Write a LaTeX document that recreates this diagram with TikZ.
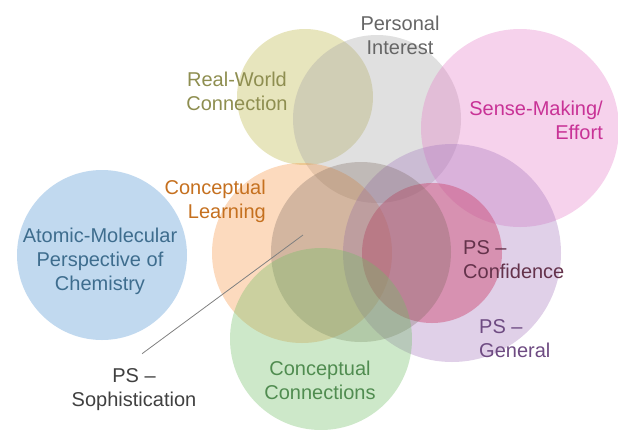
\documentclass[tikz,border=0pt]{standalone}
\usepackage{fontspec}
\setmainfont{Liberation Sans}
\usepackage{xcolor}
\usepackage{tikz}
\definecolor{ampblue}{RGB}{91,155,213}
\definecolor{rwolive}{RGB}{196,189,90}
\definecolor{pigray}{RGB}{166,166,166}
\definecolor{smpink}{RGB}{230,125,200}
\definecolor{clorange}{RGB}{245,150,70}
\definecolor{genpurple}{RGB}{165,120,190}
\definecolor{confred}{RGB}{205,70,110}
\definecolor{sophtaupe}{RGB}{120,100,90}
\definecolor{ccgreen}{RGB}{112,190,100}
\tikzset{
  venn set/.style={circle, inner sep=0pt, draw=none, fill opacity=0.35},
  venn label/.style={align=center, inner sep=1pt, font=\fontsize{20}{24}\selectfont},
  leader line/.style={draw=black!50, line width=0.8pt}
}

\begin{document}
\begin{tikzpicture}[x=1pt, y=-1pt]
    \useasboundingbox (0,0) rectangle (618,429);

    % Sets
    \node [venn set, fill=ampblue, fill opacity=0.38, minimum size=170pt] (Amp) at (102,255) {};
    \node [venn set, fill=rwolive, fill opacity=0.4, minimum size=136pt] (Rw) at (305,97) {};
    \node [venn set, fill=pigray, minimum size=168pt] (Pi) at (377,119) {};
    \node [venn set, fill=smpink, minimum size=198pt] (Sm) at (520,128) {};
    \node [venn set, fill=clorange, minimum size=180pt] (Cl) at (302,253) {};
    \node [venn set, fill=genpurple, minimum size=218pt] (Gen) at (452,253) {};
    \node [venn set, fill=confred, fill opacity=0.45, minimum size=140pt] (Conf) at (432,253) {};
    \node [venn set, fill=sophtaupe, fill opacity=0.3, minimum size=180pt] (Soph) at (361,252) {};
    \node [venn set, fill=ccgreen, minimum size=182pt] (Cc) at (321,339) {};

    % Labels
    \node [venn label, text=black!60] (PiText) at (400,35) {Personal\\Interest};
    \node [venn label, text={rgb,255:red,142;green,142;blue,80}] (RwText) at (237,91) {Real-World\\Connection};
    \node [venn label, align=right, anchor=east, text={rgb,255:red,200;green,50;blue,150}] (SmText) at (604,120) {Sense-Making/\\Effort};
    \node [venn label, align=right, anchor=east, text={rgb,255:red,197;green,112;blue,31}] (ClText) at (267,201) {Conceptual\\Learning};
    \node [venn label, text={rgb,255:red,62;green,109;blue,142}] (AmpText) at (100,261) {Atomic-Molecular\\Perspective of\\Chemistry};
    \node [venn label, align=left, anchor=west, text={rgb,255:red,100;green,50;blue,75}] (ConfText) at (462,260) {PS –\\Confidence};
    \node [venn label, align=left, anchor=west, text={rgb,255:red,110;green,75;blue,130}] (GenText) at (478,339) {PS –\\General};
    \node [venn label, text={rgb,255:red,80;green,140;blue,80}] (CcText) at (320,380) {Conceptual\\Connections};
    \node [venn label, text=black!75] (SophText) at (134,390) {PS –\\Sophistication};

    % Leader
    \coordinate (SophTip) at (303,235);
    \draw [leader line] ([xshift=8pt, yshift=14pt]SophText.north) -- (SophTip);
\end{tikzpicture}
\end{document}
